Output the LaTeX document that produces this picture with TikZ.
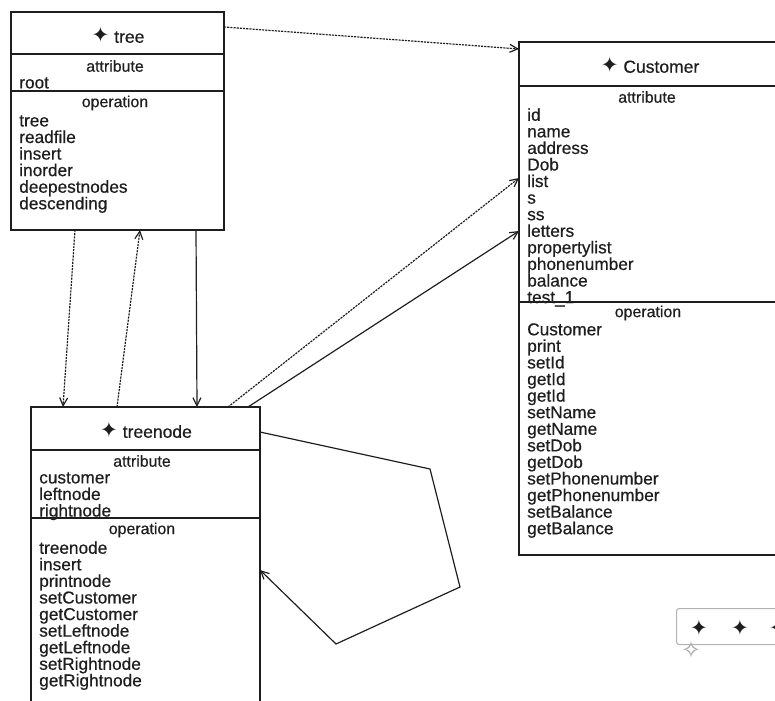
\documentclass[tikz,border=0pt]{standalone}
\usepackage{fontspec}
\setmainfont[RawFeature={embolden=0.5}]{Liberation Sans}
\newfontfamily\symbfont{DejaVu Sans}
\usetikzlibrary{arrows.meta}
\newcommand{\px}{0.0265cm}
\newcommand{\classmark}{{\symbfont\fontsize{16}{16}\selectfont ✦}}
\definecolor{ink}{RGB}{30,30,30}
\tikzset{
  >={Straight Barb[length=6pt,width=6pt]},
  classbox/.style={draw=ink, line width=1.1pt, anchor=north west, outer sep=0pt, inner sep=0pt, minimum width=#1*\px},
  classtitle/.style={text=ink, font=\fontsize{13.2}{14}\selectfont},
  classhead/.style={text=ink, font=\fontsize{12}{14}\selectfont},
  classlist/.style={text=ink, anchor=north west, align=left, inner sep=0pt, font=\fontsize{13}{12.5}\selectfont},
  dep/.style={->, ink, line width=0.9pt, dash pattern=on 1.6pt off 0.8pt},
  assoc/.style={->, ink, line width=0.9pt}
}
\begin{document}
\begin{tikzpicture}[x=\px, y=-\px]
\useasboundingbox (0,0) rectangle (775,701);
\clip (0,0) rectangle (775,701);

\node [classbox=213, minimum height=42*\px] (tree) at (11,12) {};
\node [classbox=213, minimum height=37*\px] (treeAttr) at (11,54) {};
\node [classbox=213, minimum height=139*\px] (treeOper) at (11,91) {};
\node [classtitle] (treeName) at (118,35) {\classmark\ tree};
\node [classhead] (treeAttrHead) at (115,66) {attribute};
\node [classlist] (treeAttrList) at (19,77) {root};
\node [classhead] (treeOperHead) at (115,103) {operation};
\node [classlist] (treeOperList) at (19,115) {tree\\readfile\\insert\\inorder\\deepestnodes\\descending};

\node [classbox=229, minimum height=43*\px] (treenode) at (31,407) {};
\node [classbox=229, minimum height=68*\px] (treenodeAttr) at (31,450) {};
\node [classbox=229, minimum height=220*\px] (treenodeOper) at (31,518) {};
\node [classtitle] (treenodeName) at (146,430) {\classmark\ treenode};
\node [classhead] (treenodeAttrHead) at (142,461) {attribute};
\node [classlist] (treenodeAttrList) at (39,472) {customer\\leftnode\\rightnode};
\node [classhead] (treenodeOperHead) at (142,530) {operation};
\node [classlist] (treenodeOperList) at (39,541) {treenode\\insert\\printnode\\setCustomer\\getCustomer\\setLeftnode\\getLeftnode\\setRightnode\\getRightnode};

\node [classbox=300, minimum height=44*\px] (customer) at (519,42) {};
\node [classbox=300, minimum height=216*\px] (customerAttr) at (519,86) {};
\node [classbox=300, minimum height=253*\px] (customerOper) at (519,302) {};
\node [classtitle] (customerName) at (650,65) {\classmark\ Customer};
\node [classhead] (customerAttrHead) at (647,97) {attribute};
\node [classlist] (customerAttrList) at (527,108) {id\\name\\address\\Dob\\list\\s\\ss\\letters\\propertylist\\phonenumber\\balance\\test\_1};
\node [classhead] (customerOperHead) at (648,313) {operation};
\node [classlist] (customerOperList) at (527,323) {Customer\\print\\setId\\getId\\getId\\setName\\getName\\setDob\\getDob\\setPhonenumber\\getPhonenumber\\setBalance\\getBalance};

\draw [dep] ([yshift=6*\px]tree.east) -- ([yshift=15*\px]customer.west);
\draw [dep] ([xshift=64*\px]treeOper.south west) -- ([xshift=32*\px]treenode.north west);
\draw [dep] ([xshift=86*\px]treenode.north west) -- ([xshift=129*\px]treeOper.south west);
\draw [assoc] ([xshift=185*\px]treeOper.south west) -- ([xshift=166*\px]treenode.north west);
\draw [dep] ([xshift=197*\px]treenode.north west) -- ([yshift=16*\px]customerAttr.west);
\draw [assoc] ([xshift=217*\px]treenode.north west) -- ([yshift=-37*\px]customerAttr.west);
\draw [assoc] ([yshift=-3.5*\px]treenode.east) -- (430,469) -- (460,587) -- (336,644) -- ([yshift=58*\px]treenodeOper.east);

\node [draw=black!30, line width=0.8pt, rounded corners=2pt, anchor=north west, minimum width=140*\px, minimum height=36*\px] (toolbar) at (676,608) {};
\node [text=ink] (toolA) at (699,628) {\classmark};
\node [text=ink] (toolB) at (740,628) {\classmark};
\node [text=ink] (toolC) at (778,628) {\classmark};
\node [text=black!35, font=\fontsize{18}{18}\selectfont\symbfont] (cursor) at (691,650) {✧};
\end{tikzpicture}
\end{document}
